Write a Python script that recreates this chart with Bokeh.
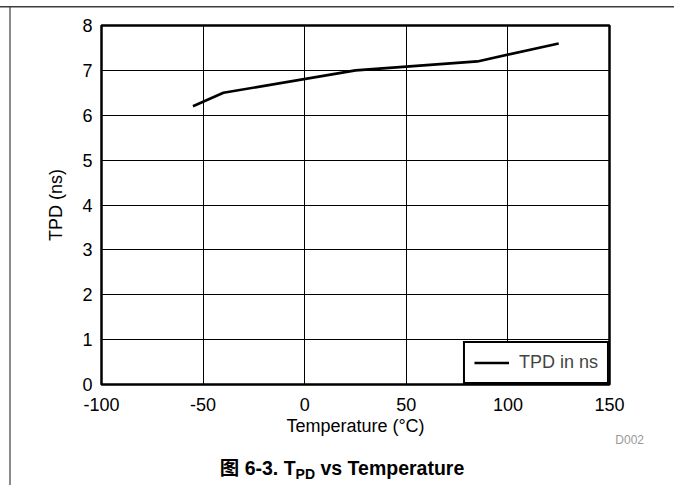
from bokeh.plotting import figure
from bokeh.layouts import column
from bokeh.models import FixedTicker, Legend, LegendItem, Range1d, Div
from bokeh.embed import file_html
from bokeh.resources import INLINE

temperature = [-55, -40, 25, 85, 125]
tpd_ns = [6.2, 6.5, 7.0, 7.2, 7.6]
x_ticks = [-100, -50, 0, 50, 100, 150]
y_ticks = [0, 1, 2, 3, 4, 5, 6, 7, 8]
x_tick_text = {t: str(t) for t in x_ticks}

FONT = "Liberation Sans"

p = figure(width=674, height=440, output_backend="svg", toolbar_location=None,
           x_range=Range1d(-100, 150), y_range=Range1d(0, 8),
           min_border_left=101, min_border_right=65, min_border_top=25, min_border_bottom=56)

p.outline_line_color = "black"
p.outline_line_width = 2.5
p.outline_line_alpha = 1
p.background_fill_color = "white"
p.border_fill_color = None

for ax in (p.xaxis[0], p.yaxis[0]):
    ax.axis_line_color = None
    ax.major_tick_line_color = None
    ax.minor_tick_line_color = None
    ax.major_label_text_font = FONT
    ax.major_label_text_font_size = "18px"
    ax.major_label_text_color = "black"
    ax.axis_label_text_font = FONT
    ax.axis_label_text_font_size = "18px"
    ax.axis_label_text_font_style = "normal"
    ax.axis_label_text_color = "black"
    ax.major_tick_out = 0
    ax.major_tick_in = 0

p.xaxis.ticker = FixedTicker(ticks=x_ticks)
p.yaxis.ticker = FixedTicker(ticks=y_ticks)
p.xaxis.major_label_overrides = x_tick_text
p.xaxis.axis_label = "Temperature (°C)"
p.yaxis.axis_label = "TPD (ns)"
p.xaxis.major_label_standoff = 13
p.xaxis.axis_label_standoff = 2
p.yaxis.major_label_standoff = 9
p.yaxis.axis_label_standoff = 13

p.xgrid.grid_line_color = "black"
p.ygrid.grid_line_color = "black"
p.xgrid.grid_line_width = 1
p.ygrid.grid_line_width = 1
p.xgrid.grid_line_alpha = 1
p.ygrid.grid_line_alpha = 1

r = p.line(temperature, tpd_ns, line_color="black", line_width=2.6)

legend = Legend(items=[LegendItem(label="TPD in ns", renderers=[r])],
                location="bottom_right", margin=0, padding=9, spacing=0,
                glyph_width=35, glyph_height=21, label_height=21, label_standoff=10,
                label_text_font=FONT, label_text_font_size="18px",
                border_line_color="black", border_line_width=2, border_line_alpha=1,
                background_fill_color="white", background_fill_alpha=1)
p.add_layout(legend)

footer = Div(width=674, height=45, text=(
    '<div style="position:relative;width:674px;height:45px;'
    'font-family:\'Liberation Sans\',\'Noto Sans CJK SC\',sans-serif;">'
    '<span style="position:absolute;right:35px;top:-13px;font-size:12px;color:#999999;">D002</span>'
    '<div style="position:absolute;left:0px;top:12px;width:674px;text-align:center;'
    'font-size:19.5px;font-weight:bold;line-height:22px;color:black;white-space:nowrap;">'
    '图 6-3. T<span style="font-size:14px;position:relative;top:4px;">PD</span> vs Temperature</div>'
    '</div>'))

page = column(p, footer, spacing=0, styles={
    "background-color": "white",
    "background-image": "linear-gradient(#3c3c3c,#3c3c3c), linear-gradient(#8a8a8a,#8a8a8a)",
    "background-size": "674px 1.5px, 2px 485px",
    "background-position": "0px 6px, 9px 6px",
    "background-repeat": "no-repeat",
})

open("out.html", "w").write(file_html(page, INLINE))
